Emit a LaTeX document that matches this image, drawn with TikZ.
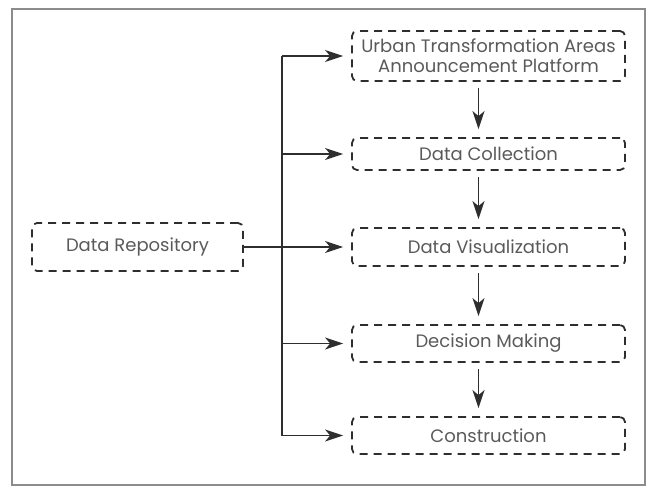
\documentclass[tikz,border=0pt]{standalone}
\usepackage{fontspec}
\setmainfont{Poppins}
\usetikzlibrary{arrows.meta}
\definecolor{txtgray}{HTML}{5A5A5A}
\definecolor{framegray}{HTML}{8C8C8C}
\definecolor{linegray}{HTML}{2E2E2E}
\tikzset{
  stepbox/.style={draw=linegray, line width=1.8pt, dash pattern=on 8pt off 6pt,
    rounded corners=5pt, minimum width=273pt, minimum height=36pt,
    align=center, text=txtgray, font=\fontsize{18}{20}\selectfont, inner sep=2pt},
  flowarrow/.style={draw=linegray, line width=1.8pt, -{Stealth[length=18pt,width=12pt,inset=5pt]}},
  trunkline/.style={draw=linegray, line width=1.8pt}
}
\begin{document}
\begin{tikzpicture}[x=1pt,y=-1pt]
\useasboundingbox (0,0) rectangle (648,489);
\draw[framegray, line width=2.4pt] (12,9) rectangle (645,485);

\node[stepbox, minimum height=50pt] (b1) at (488.5,56) {Urban Transformation Areas\\Announcement Platform};
\node[stepbox, minimum height=32pt] (b2) at (488.5,154) {Data Collection};
\node[stepbox, minimum height=38pt] (b3) at (488.5,247) {Data Visualization};
\node[stepbox, minimum height=37pt] (b4) at (488.5,343.5) {Decision Making};
\node[stepbox, minimum height=37pt] (b5) at (488.5,435.5) {Construction};
\node[stepbox, minimum width=211pt, minimum height=48pt] (dr) at (137.5,247) {Data Repository};

\coordinate (t1) at (282,56);
\coordinate (t2) at (282,154);
\coordinate (t3) at (282,247);
\coordinate (t4) at (282,343.5);
\coordinate (t5) at (282,435.5);

\draw[trunkline] (t1) -- (t5);
\draw[flowarrow, shorten >=8pt] (t1) -- (b1.west);
\draw[flowarrow, shorten >=8pt] (t2) -- (b2.west);
\draw[flowarrow, shorten >=8pt] (dr.east) -- (b3.west);
\draw[flowarrow, shorten >=8pt] (t4) -- (b4.west);
\draw[flowarrow, shorten >=8pt] (t5) -- (b5.west);

\draw[flowarrow, shorten <=6pt, shorten >=8pt] ([xshift=-10pt]b1.south) -- ([xshift=-10pt]b2.north);
\draw[flowarrow, shorten <=6pt, shorten >=8pt] ([xshift=-10pt]b2.south) -- ([xshift=-10pt]b3.north);
\draw[flowarrow, shorten <=6pt, shorten >=8pt] ([xshift=-10pt]b3.south) -- ([xshift=-10pt]b4.north);
\draw[flowarrow, shorten <=6pt, shorten >=8pt] ([xshift=-10pt]b4.south) -- ([xshift=-10pt]b5.north);
\end{tikzpicture}
\end{document}
